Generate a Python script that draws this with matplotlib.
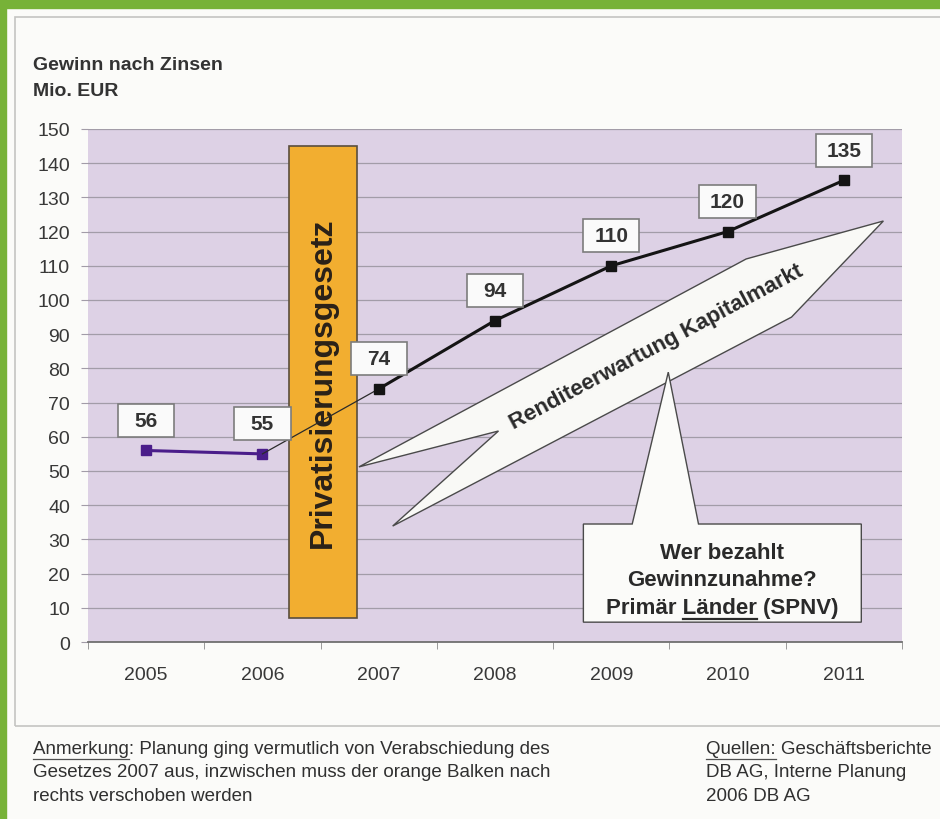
import matplotlib.pyplot as plt
from matplotlib.patches import Rectangle, Polygon
from matplotlib.lines import Line2D
import numpy as np

plt.rcParams['font.family'] = ['Liberation Sans', 'DejaVu Sans']

years = ['2005', '2006', '2007', '2008', '2009', '2010', '2011']
gewinn = [56, 55, 74, 94, 110, 120, 135]   # Mio. EUR
y_ticks = list(range(0, 151, 10))

# shapes in data coordinates (x = year index, y = Mio. EUR)
gesetz_bar = (1.23, 7, 0.58, 138)
arrow_shape = [(6.34, 123.1), (5.16, 112.0), (1.83, 51.2), (3.03, 61.7),
               (2.12, 33.9), (5.55, 95.0)]
callout_shape = [(3.76, 5.8), (3.76, 34.5), (4.18, 34.5), (4.49, 78.9),
                 (4.75, 34.5), (6.15, 34.5), (6.15, 5.8)]

W, H = 940, 820
fig = plt.figure(figsize=(W / 100, H / 100), dpi=100)
fig.patch.set_facecolor('#fbfbf9')


def px(x, y):
    # pixel position (top-left origin) -> figure fraction
    return x / W, 1 - y / H


# green frame of the screenshot + thin grey border of the chart
fig.add_artist(Rectangle(px(0, 9), 1, 9 / H, color='#77b238', transform=fig.transFigure))
fig.add_artist(Rectangle((0, 0), 6 / W, 1, color='#77b238', transform=fig.transFigure))
fig.add_artist(Rectangle(px(15, 727), (W - 10) / W, (727 - 18) / H, fill=False,
                         edgecolor='#c4c4c2', lw=1.2, transform=fig.transFigure))

x0, y0 = px(88, 643)
ax = fig.add_axes([x0, y0, (902 - 88) / W, (643 - 130) / H])
ax.set_facecolor('#ddd1e5')
ax.set_xlim(-0.5, 6.5)
ax.set_ylim(0, 150)
for s in ['top', 'right', 'left']:
    ax.spines[s].set_visible(False)
ax.spines['bottom'].set_color('#707070')
ax.spines['bottom'].set_linewidth(1.3)

ax.set_yticks(y_ticks)
ax.yaxis.grid(True, color='#a29ca8', lw=0.9)
ax.set_axisbelow(True)
ax.tick_params(axis='y', length=5, color='#a29ca8', pad=8, labelsize=14, labelcolor='#383838')

xs = np.arange(len(years))
ax.set_xticks(xs)
ax.set_xticklabels(years)
ax.set_xticks(np.arange(-0.5, len(years), 1), minor=True)
ax.tick_params(axis='x', which='major', length=0, pad=17, labelsize=14, labelcolor='#383838')
ax.tick_params(axis='x', which='minor', length=5, color='#8a8a8a')

# orange bar
bx, by, bw, bh = gesetz_bar
ax.add_patch(Rectangle((bx, by), bw, bh, facecolor='#f2ae30', edgecolor='#5a4e3e', lw=1.2, zorder=2))
ax.text(bx + bw / 2, by + bh / 2, 'Privatisierungsgesetz', rotation=90, ha='center', va='center',
        fontsize=23, fontweight='bold', color='#2a2118', zorder=3)

# lines
ax.plot(xs[:2], gewinn[:2], color='#4a1d8a', lw=2.2, marker='s', ms=7, zorder=4)
ax.plot(xs[1:3], gewinn[1:3], color='#2a2a2a', lw=0.9, zorder=4)
ax.plot(xs[2:], gewinn[2:], color='#141414', lw=2.2, marker='s', ms=7, zorder=4)

# value boxes
for i, v in zip(xs, gewinn):
    cy = v + 8.8
    ax.add_patch(Rectangle((i - 0.242, cy - 4.8), 0.484, 9.6, facecolor='#fafafa',
                           edgecolor='#7c7c7c', lw=1.2, zorder=5))
    ax.text(i, cy, str(v), ha='center', va='center', fontsize=15, fontweight='bold',
            color='#333333', zorder=6)

# arrow "Renditeerwartung Kapitalmarkt"
ax.add_patch(Polygon(arrow_shape, closed=True, facecolor='#f9f9f6', edgecolor='#4a4a4a',
                     lw=1.0, zorder=3))
ax.text(4.39, 86.5, 'Renditeerwartung Kapitalmarkt', rotation=28, rotation_mode='anchor',
        ha='center', va='center', fontsize=16, fontweight='bold', color='#2a2a2a', zorder=4)

# callout box
ax.add_patch(Polygon(callout_shape, closed=True, facecolor='#fbfbf9', edgecolor='#4a4a4a',
                     lw=1.0, zorder=3))
cx = (callout_shape[0][0] + callout_shape[-1][0]) / 2
ax.text(cx, 26.3, 'Wer bezahlt', ha='center', va='center', fontsize=16, fontweight='bold',
        color='#2a2a2a', zorder=4)
ax.text(cx, 18.3, 'Gewinnzunahme?', ha='center', va='center', fontsize=16, fontweight='bold',
        color='#2a2a2a', zorder=4)
t_pl = ax.text(cx, 10.2, 'Primär Länder (SPNV)', ha='center', va='center', fontsize=16,
               fontweight='bold', color='#2a2a2a', zorder=4)

# header
fig.text(*px(33, 57), 'Gewinn nach Zinsen', ha='left', va='top', fontsize=14, fontweight='bold',
         color='#333333')
fig.text(*px(33, 83), 'Mio. EUR', ha='left', va='top', fontsize=14, fontweight='bold',
         color='#333333')

# notes
note_kw = dict(ha='left', va='top', fontsize=13.5, color='#303030', linespacing=1.5)
t_an = fig.text(*px(33, 741), 'Anmerkung: Planung ging vermutlich von Verabschiedung des\n'
                'Gesetzes 2007 aus, inzwischen muss der orange Balken nach\n'
                'rechts verschoben werden', **note_kw)
t_qu = fig.text(*px(706, 741), 'Quellen: Geschäftsberichte\nDB AG, Interne Planung\n2006 DB AG',
                **note_kw)


def underline(txt, head, word, lw, color, first_line=False):
    fig.canvas.draw()
    r = fig.canvas.get_renderer()

    def width(s):
        t = fig.text(0, 0, s, fontsize=txt.get_fontsize(), fontweight=txt.get_fontweight())
        w = t.get_window_extent(r).width
        t.remove()
        return w

    bb = txt.get_window_extent(r)
    full = txt.get_text().split('\n')[0]
    w_full = width(full)
    if first_line:
        left = bb.x0
    else:
        left = (bb.x0 + bb.x1) / 2 - w_full / 2
    end = left + width(head + word)
    start = end - width(word)
    fs_px = txt.get_fontsize() * 100 / 72
    yb = bb.y1 - fs_px * 1.02
    inv = fig.transFigure.inverted()
    (a, yy), (b, _) = inv.transform([(start, yb), (end, yb)])
    fig.add_artist(Line2D([a, b], [yy, yy], color=color, lw=lw, transform=fig.transFigure))


underline(t_pl, 'Primär ', 'Länder', 1.6, '#2a2a2a')
underline(t_an, '', 'Anmerkung', 0.9, '#505050', first_line=True)
underline(t_qu, '', 'Quellen:', 0.9, '#505050', first_line=True)

fig.savefig('out.png', dpi=100, facecolor=fig.get_facecolor())
